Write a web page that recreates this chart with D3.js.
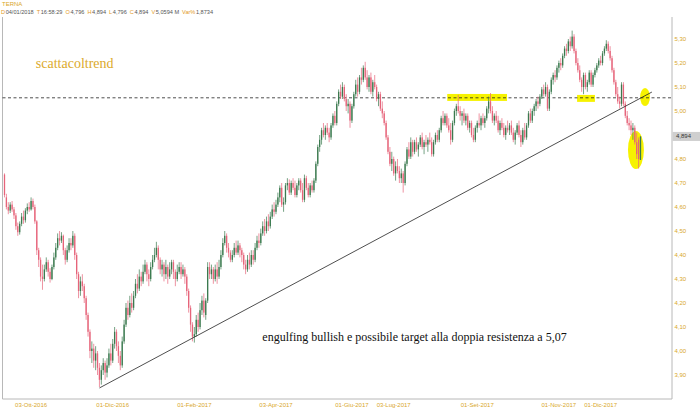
<!DOCTYPE html>
<html lang="it">
<head>
<meta charset="UTF-8">
<title>TERNA</title>
<style>
  body { margin: 0; background: #fff; }
  svg { display: block; font-family: Arial, "Liberation Sans", sans-serif; }
</style>
</head>
<body>
<div id="chart"></div>
<script src="https://cdn.jsdelivr.net/npm/d3@7"></script>
<script>
// dimensioni e area del grafico
const W = 700, H = 414;
const PLOT = { left: 2.5, right: 672, top: 17, bottom: 399 };

// calendario di borsa
const startDay = "2016-09-13";
const endDay = "2018-01-04";
const holidays = ["2016-12-26", "2017-04-14", "2017-04-17", "2017-05-01", "2017-12-25", "2017-12-26", "2018-01-01"];

// candele giornaliere [open, high, low, close] in millesimi di euro
const candles = [
  [4735,4740,4640,4650],[4640,4655,4590,4600],[4600,4620,4570,4585],[4585,4620,4575,4610],[4610,4625,4580,4590],
  [4590,4600,4550,4565],[4565,4575,4505,4520],[4520,4535,4480,4495],[4495,4540,4485,4530],[4530,4575,4520,4560],
  [4560,4585,4530,4545],[4545,4595,4535,4585],[4585,4615,4570,4600],[4600,4620,4580,4590],[4590,4640,4585,4625],
  [4625,4635,4590,4600],[4600,4610,4530,4540],[4540,4545,4400,4420],[4420,4430,4350,4380],[4380,4390,4290,4310],
  [4310,4360,4255,4300],[4300,4360,4290,4340],[4340,4390,4330,4370],[4370,4380,4310,4330],[4330,4345,4285,4300],
  [4300,4360,4295,4350],[4350,4410,4340,4390],[4390,4450,4380,4430],[4430,4490,4420,4470],[4470,4500,4440,4460],
  [4460,4495,4450,4480],[4480,4485,4400,4420],[4420,4430,4360,4380],[4380,4440,4370,4420],[4420,4470,4410,4450],
  [4450,4470,4420,4440],[4440,4500,4430,4480],[4480,4490,4380,4400],[4400,4410,4300,4320],[4320,4330,4220,4250],
  [4250,4310,4230,4290],[4290,4320,4250,4270],[4270,4280,4200,4220],[4220,4230,4130,4150],[4150,4160,4060,4080],
  [4080,4090,3970,4000],[4000,4040,3950,4010],[4010,4030,3930,3960],[3960,4020,3920,3990],[3990,4000,3900,3930],
  [3930,3950,3850,3880],[3880,3940,3860,3920],[3920,3970,3900,3950],[3950,3960,3880,3910],[3910,3970,3890,3940],
  [3940,4010,3930,3990],[3990,4030,3940,3960],[3960,4050,3950,4030],[4030,4100,4010,4080],[4080,4090,4000,4020],
  [4020,4040,3950,3980],[3980,4000,3920,3940],[3940,4060,3930,4040],[4040,4130,4030,4110],[4110,4200,4100,4180],
  [4180,4210,4130,4150],[4150,4230,4140,4200],[4200,4240,4160,4180],[4180,4250,4170,4230],[4230,4300,4220,4280],
  [4280,4320,4240,4260],[4260,4340,4250,4310],[4310,4330,4270,4290],[4290,4360,4280,4330],[4330,4380,4320,4360],
  [4360,4370,4290,4320],[4320,4340,4270,4300],[4300,4370,4290,4350],[4350,4400,4340,4380],[4380,4430,4370,4400],
  [4400,4455,4390,4430],[4430,4440,4340,4380],[4380,4390,4320,4340],[4340,4380,4310,4360],[4360,4370,4290,4320],
  [4320,4380,4300,4350],[4350,4360,4280,4310],[4310,4370,4300,4340],[4340,4380,4320,4370],[4370,4380,4300,4330],
  [4330,4340,4270,4300],[4300,4360,4290,4330],[4330,4370,4320,4350],[4350,4370,4300,4320],[4320,4360,4310,4340],
  [4340,4350,4280,4310],[4310,4320,4230,4250],[4250,4260,4160,4180],[4180,4190,4080,4110],[4110,4120,4040,4060],
  [4060,4100,4035,4070],[4070,4150,4060,4130],[4130,4160,4080,4100],[4100,4200,4090,4170],[4170,4230,4150,4210],
  [4210,4240,4140,4160],[4150,4220,4130,4210],[4210,4370,4200,4350],[4350,4370,4300,4320],[4320,4360,4300,4340],
  [4340,4350,4280,4300],[4300,4360,4290,4340],[4340,4370,4280,4310],[4310,4380,4300,4350],[4350,4420,4340,4400],
  [4400,4470,4390,4450],[4450,4500,4440,4480],[4480,4490,4410,4430],[4430,4450,4390,4410],[4410,4420,4370,4380],
  [4380,4420,4370,4400],[4400,4450,4390,4430],[4430,4460,4400,4410],[4410,4460,4400,4440],[4440,4450,4390,4420],
  [4420,4430,4370,4400],[4400,4410,4340,4360],[4360,4380,4320,4340],[4340,4400,4330,4380],[4380,4410,4340,4360],
  [4360,4420,4350,4400],[4400,4420,4360,4380],[4380,4450,4370,4430],[4430,4480,4420,4460],[4460,4490,4430,4450],
  [4450,4510,4440,4490],[4490,4540,4480,4520],[4520,4550,4480,4500],[4500,4560,4490,4540],[4540,4570,4500,4520],
  [4520,4580,4510,4560],[4560,4610,4550,4590],[4590,4620,4560,4580],[4580,4630,4570,4610],[4610,4660,4600,4640],
  [4640,4690,4620,4680],[4680,4700,4600,4610],[4610,4640,4580,4620],[4620,4700,4610,4690],[4690,4720,4670,4700],
  [4700,4715,4650,4660],[4660,4710,4650,4700],[4700,4720,4670,4680],[4680,4710,4640,4650],[4650,4700,4640,4690],
  [4690,4720,4670,4710],[4710,4720,4660,4670],[4670,4700,4620,4630],[4630,4735,4620,4720],[4720,4730,4670,4680],
  [4680,4700,4640,4650],[4650,4700,4640,4690],[4690,4710,4660,4670],[4670,4720,4660,4710],[4710,4790,4700,4780],
  [4780,4860,4770,4850],[4850,4900,4830,4880],[4880,4930,4860,4920],[4920,4950,4890,4900],[4900,4940,4880,4930],
  [4930,4950,4900,4910],[4910,4930,4870,4890],[4890,4950,4880,4940],[4940,4990,4930,4980],[4980,5000,4940,4950],
  [4950,5040,4940,5030],[5030,5090,5020,5080],[5080,5110,5050,5060],[5060,5120,5050,5100],[5100,5110,5040,5050],
  [5050,5070,5000,5020],[5020,5050,4990,5030],[5030,5040,4930,4960],[4960,5030,4950,5020],[5020,5080,5010,5070],
  [5070,5130,5060,5110],[5110,5140,5060,5080],[5080,5150,5070,5140],[5140,5180,5110,5130],[5130,5190,5120,5180],
  [5180,5205,5130,5140],[5140,5170,5090,5100],[5100,5150,5080,5140],[5140,5160,5070,5080],[5080,5130,5060,5120],
  [5120,5150,5090,5100],[5100,5110,5040,5050],[5050,5080,5020,5070],[5070,5080,5000,5010],[5010,5040,4970,4990],
  [4990,5000,4940,4950],[4950,4960,4880,4890],[4890,4900,4820,4830],[4830,4850,4770,4780],[4780,4830,4750,4800],
  [4800,4810,4730,4740],[4740,4790,4710,4770],[4770,4800,4740,4750],[4750,4770,4700,4720],[4720,4760,4700,4740],
  [4740,4750,4660,4700],[4700,4790,4690,4780],[4780,4850,4770,4840],[4840,4870,4800,4810],[4810,4890,4800,4870],
  [4870,4880,4810,4830],[4830,4880,4820,4870],[4870,4890,4830,4840],[4840,4870,4810,4860],[4860,4900,4850,4890],
  [4890,4910,4840,4850],[4850,4880,4820,4870],[4870,4900,4850,4860],[4860,4890,4830,4880],[4880,4910,4860,4870],
  [4870,4890,4810,4820],[4820,4880,4810,4870],[4870,4910,4860,4900],[4900,4920,4870,4880],[4880,4930,4870,4920],
  [4920,4980,4910,4970],[4970,5000,4940,4950],[4950,4990,4940,4980],[4980,4990,4930,4940],[4940,4970,4910,4920],
  [4920,4950,4860,4880],[4880,4960,4870,4950],[4950,5010,4940,5000],[5000,5030,4980,5020],[5020,5067,4990,5000],
  [5000,5020,4960,4980],[4980,5000,4940,4990],[4990,5010,4950,4960],[4960,4990,4940,4980],[4980,4990,4920,4930],
  [4930,4960,4910,4950],[4950,4960,4890,4900],[4900,4930,4870,4880],[4880,4940,4870,4930],[4930,4960,4910,4950],
  [4950,4990,4930,4940],[4940,4980,4920,4970],[4970,4990,4940,4950],[4950,4980,4930,4970],[4970,5020,4960,5010],
  [5010,5060,4990,5040],[5040,5075,4990,5000],[5000,5020,4950,4960],[4960,4990,4940,4980],[4980,5000,4950,4960],
  [4960,4980,4910,4920],[4920,4960,4900,4950],[4950,4970,4920,4930],[4930,4950,4890,4900],[4900,4940,4880,4930],
  [4930,4960,4910,4920],[4920,4950,4900,4940],[4940,4960,4900,4910],[4910,4930,4870,4880],[4880,4920,4860,4910],
  [4910,4950,4900,4940],[4940,4960,4890,4900],[4900,4920,4850,4870],[4870,4930,4860,4920],[4920,4950,4880,4890],
  [4890,4950,4880,4940],[4940,5000,4930,4990],[4990,5010,4950,4960],[4960,5010,4950,5000],[5000,5030,4980,5020],
  [5020,5050,5000,5040],[5040,5060,5010,5030],[5030,5070,5020,5060],[5060,5100,5050,5090],[5090,5110,5060,5070],
  [5070,5120,5060,5100],[5100,5110,5000,5010],[5010,5090,5000,5080],[5080,5140,5070,5130],[5130,5160,5110,5150],
  [5150,5170,5120,5140],[5140,5190,5130,5180],[5180,5210,5160,5200],[5200,5220,5170,5190],[5190,5240,5180,5230],
  [5230,5270,5220,5260],[5260,5280,5230,5250],[5250,5300,5240,5290],[5290,5310,5250,5270],[5270,5335,5260,5310],
  [5310,5320,5240,5250],[5250,5260,5190,5200],[5200,5220,5160,5170],[5170,5190,5120,5130],[5130,5140,5080,5100],
  [5100,5160,5070,5150],[5150,5160,5090,5100],[5100,5130,5080,5120],[5120,5170,5110,5160],[5160,5170,5100,5110],
  [5110,5160,5100,5150],[5150,5180,5140,5170],[5170,5200,5160,5190],[5190,5220,5180,5210],[5210,5230,5190,5200],
  [5200,5250,5190,5240],[5240,5270,5230,5260],[5260,5295,5250,5280],[5280,5290,5240,5250],[5250,5270,5210,5220],
  [5220,5230,5160,5170],[5170,5180,5110,5120],[5120,5130,5060,5070],[5070,5100,5030,5040],[5040,5060,5010,5030],
  [5030,5120,5020,5110],[5110,5120,5020,5030],[5030,5040,4970,4980],[4980,5000,4940,4950],[4950,4970,4920,4940],
  [4940,4960,4900,4920],[4920,4950,4880,4930],[4930,4940,4860,4870],[4870,4910,4800,4820],[4880,4890,4760,4800],
  [4796,4894,4796,4894]
];

// etichette degli assi
const yTicks = [3.9, 4.0, 4.1, 4.2, 4.3, 4.4, 4.5, 4.6, 4.7, 4.8, 4.9, 5.0, 5.1, 5.2, 5.3];
const xTickDays = ["2016-10-03", "2016-12-01", "2017-02-01", "2017-04-03", "2017-06-01", "2017-07-03", "2017-09-01", "2017-11-01", "2017-12-01"];
const xTickLabels = ["03-Ott-2016", "01-Dic-2016", "01-Feb-2017", "03-Apr-2017", "01-Giu-2017", "03-Lug-2017", "01-Set-2017", "01-Nov-2017", "01-Dic-2017"];

// intestazione
const title = "TERNA";
const headerKeys = ["D", "T", "O", "H", "L", "C", "V", "Var%"];
const headerValues = ["04/01/2018", "16:58:29", "4,796", "4,894", "4,796", "4,894", "5,0594 M", "1,8734"];
const lastPrice = 4.894;

// annotazioni (indice candela, prezzo)
const resistance = 5.055;
const trendLine = [[50, 3.846], [341, 5.079]];
const zones = [[233.2, 264.7, 5.042, 5.071], [301.6, 311, 5.038, 5.067]];
const ellipses = [[337.4, 5.058, 2.6, 0.0375], [332.6, 4.8375, 4.2, 0.079]];
const notes = [
  { text: "scattacoltrend", i: 16.5, p: 5.178, size: 14, color: "#dcaa2c" },
  { text: "engulfing bullish e possibile target alla doppia resistenza a 5,07", i: 135.8, p: 4.042, size: 12, color: "#111" }
];

const GOLD = "#d9a72a";
const UP = "#3b7a4f";
const DOWN = "#e6647a";

// giorni di borsa
const fmt = d3.timeFormat("%Y-%m-%d");
const parse = d3.timeParse("%Y-%m-%d");
const days = d3.timeDay.range(parse(startDay), d3.timeDay.offset(parse(endDay), 1))
  .filter(d => d.getDay() !== 0 && d.getDay() !== 6 && !holidays.includes(fmt(d)))
  .map(fmt);

const data = candles.map((c, i) => ({ i, day: days[i], o: c[0] / 1000, h: c[1] / 1000, l: c[2] / 1000, c: c[3] / 1000 }));

const x = d3.scaleLinear().domain([0, data.length - 1]).range([4.5, 640.5]);
const y = d3.scaleLinear().domain([3.9, 5.3]).range([375, 39]);

const svg = d3.select("#chart").append("svg")
  .attr("width", W).attr("height", H);

// cornice
svg.append("path")
  .attr("d", `M${PLOT.left},${PLOT.top}V${PLOT.bottom}H${PLOT.right}V${PLOT.top}`)
  .attr("fill", "none").attr("stroke", "#b8b8b8").attr("stroke-width", 1);

// zone evidenziate in giallo
svg.append("g").selectAll("rect").data(zones).enter().append("rect")
  .attr("x", d => x(d[0])).attr("width", d => x(d[1]) - x(d[0]))
  .attr("y", d => y(d[3])).attr("height", d => y(d[2]) - y(d[3]))
  .attr("fill", "#f6f200");

svg.append("g").selectAll("ellipse").data(ellipses).enter().append("ellipse")
  .attr("cx", d => x(d[0])).attr("cy", d => y(d[1]))
  .attr("rx", d => x(d[2]) - x(0)).attr("ry", d => y(0) - y(d[3]))
  .attr("fill", "#f6f200");

// resistenza tratteggiata
svg.append("line")
  .attr("x1", PLOT.left).attr("x2", PLOT.right)
  .attr("y1", y(resistance)).attr("y2", y(resistance))
  .attr("stroke", "#222").attr("stroke-width", 0.8).attr("stroke-dasharray", "3,2.5");

// candele
const g = svg.append("g");
g.selectAll("line.wick").data(data).enter().append("line")
  .attr("class", "wick")
  .attr("x1", d => x(d.i)).attr("x2", d => x(d.i))
  .attr("y1", d => y(d.h)).attr("y2", d => y(d.l))
  .attr("stroke", d => d.c >= d.o ? UP : DOWN).attr("stroke-width", 0.7);
g.selectAll("rect.body").data(data).enter().append("rect")
  .attr("class", "body")
  .attr("x", d => x(d.i) - 0.65).attr("width", 1.3)
  .attr("y", d => y(Math.max(d.o, d.c)))
  .attr("height", d => Math.max(1, Math.abs(y(d.o) - y(d.c))))
  .attr("fill", d => d.c >= d.o ? UP : DOWN);

// trendline
svg.append("line")
  .attr("x1", x(trendLine[0][0])).attr("y1", y(trendLine[0][1]))
  .attr("x2", x(trendLine[1][0])).attr("y2", y(trendLine[1][1]))
  .attr("stroke", "#222").attr("stroke-width", 0.8);

// asse y (l'etichetta coperta dal box dell'ultimo prezzo non si vede)
const comma = v => d3.format(".2f")(v).replace(".", ",");
svg.append("g").selectAll("text").data(yTicks.filter(v => Math.abs(y(v) - y(lastPrice)) > 8)).enter().append("text")
  .attr("x", PLOT.right + 2.5).attr("y", d => y(d) + 2)
  .attr("font-size", 6).attr("fill", GOLD)
  .text(comma);

// ultimo prezzo
svg.append("rect")
  .attr("x", PLOT.right + 0.5).attr("y", y(lastPrice) - 4.5)
  .attr("width", W - PLOT.right).attr("height", 9)
  .attr("fill", "#cfcfcf");
svg.append("text")
  .attr("x", PLOT.right + 4).attr("y", y(lastPrice) + 2)
  .attr("font-size", 6).attr("fill", "#333")
  .text(d3.format(".3f")(lastPrice).replace(".", ","));

// asse x
svg.append("g").selectAll("text").data(xTickDays).enter().append("text")
  .attr("x", d => x(days.indexOf(d)))
  .attr("y", 407)
  .attr("text-anchor", "middle")
  .attr("font-size", 6).attr("fill", GOLD)
  .text((d, k) => xTickLabels[k]);

// intestazione
svg.append("text").attr("x", 2).attr("y", 6)
  .attr("font-size", 6).attr("fill", GOLD).text(title);
const hdr = svg.append("text").attr("x", 1).attr("y", 14).attr("font-size", 5.6);
headerKeys.forEach((k, n) => {
  hdr.append("tspan").attr("dx", n ? 3 : 0).attr("fill", "#e39a1f").text(k);
  hdr.append("tspan").attr("dx", 0.6).attr("fill", "#555").text(headerValues[n]);
});

// note
svg.append("g").selectAll("text").data(notes).enter().append("text")
  .attr("x", d => x(d.i)).attr("y", d => y(d.p))
  .attr("font-family", "'Liberation Serif', 'DejaVu Serif', serif")
  .attr("font-size", d => d.size).attr("fill", d => d.color)
  .text(d => d.text);
</script>
</body>
</html>
